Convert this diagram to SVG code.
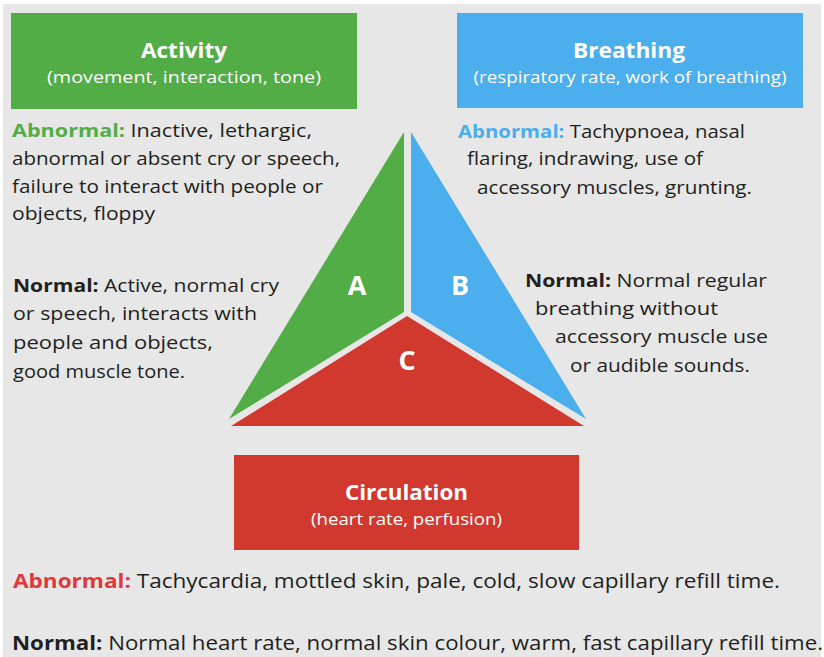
<svg xmlns="http://www.w3.org/2000/svg" width="824" height="657" viewBox="0 0 824 657">
<style>
  text { font-family: "Open Sans", "Noto Sans", "Liberation Sans", sans-serif; }
  .t { font-size: 18.5px; fill: #231f20; }
  .b { font-weight: bold; }
  .title { font-size: 22px; font-weight: bold; fill: #ffffff; text-anchor: middle; }
  .sub { font-size: 17px; fill: #ffffff; text-anchor: middle; }
  .big { font-size: 20px; fill: #231f20; }
  .letter { font-size: 27px; font-weight: bold; fill: #ffffff; text-anchor: middle; }
  .g { fill: #53ad47; }
  .bl { fill: #4baeed; }
  .r { fill: #d1392e; }
</style>
<rect x="0" y="0" width="824" height="657" fill="#ffffff"/>
<rect x="3" y="4" width="818" height="653" fill="#e7e7e7"/>

<g id="activity">
  <rect class="g" x="11" y="13" width="346" height="96"/>
  <text class="title" x="184" y="58" textLength="86" lengthAdjust="spacingAndGlyphs">Activity</text>
  <text class="sub" x="184" y="83" textLength="274" lengthAdjust="spacingAndGlyphs">(movement, interaction, tone)</text>
</g>

<g id="breathing">
  <rect class="bl" x="457" y="13" width="346" height="95"/>
  <text class="title" x="629" y="58" textLength="112" lengthAdjust="spacingAndGlyphs">Breathing</text>
  <text class="sub" x="630" y="83" textLength="313" lengthAdjust="spacingAndGlyphs">(respiratory rate, work of breathing)</text>
</g>

<g id="circulation">
  <rect class="r" x="234" y="455" width="345" height="95"/>
  <text class="title" x="406.5" y="500" textLength="123" lengthAdjust="spacingAndGlyphs">Circulation</text>
  <text class="sub" x="406.5" y="525" textLength="191" lengthAdjust="spacingAndGlyphs">(heart rate, perfusion)</text>
</g>

<g id="triangle">
  <polygon class="g" points="404,132 404,312 229,419"/>
  <polygon class="bl" points="411,132 411,312 586,419"/>
  <polygon class="r" points="407,316 584,426 231,426"/>
  <text class="letter" x="357" y="295">A</text>
  <text class="letter" x="460" y="295">B</text>
  <text class="letter" x="407" y="370">C</text>
</g>

<g id="activity-text">
  <text class="t" x="12" y="137" textLength="300" lengthAdjust="spacingAndGlyphs"><tspan class="b" fill="#53ad47">Abnormal:</tspan> Inactive, lethargic,</text>
  <text class="t" x="12" y="165" textLength="328" lengthAdjust="spacingAndGlyphs">abnormal or absent cry or speech,</text>
  <text class="t" x="12" y="193" textLength="311" lengthAdjust="spacingAndGlyphs">failure to interact with people or</text>
  <text class="t" x="12" y="220" textLength="143" lengthAdjust="spacingAndGlyphs">objects, floppy</text>
  <text class="t" x="13" y="292" textLength="266" lengthAdjust="spacingAndGlyphs"><tspan class="b">Normal:</tspan> Active, normal cry</text>
  <text class="t" x="13" y="320" textLength="244" lengthAdjust="spacingAndGlyphs">or speech, interacts with</text>
  <text class="t" x="13" y="349" textLength="200" lengthAdjust="spacingAndGlyphs">people and objects,</text>
  <text class="t" x="13" y="378" textLength="172" lengthAdjust="spacingAndGlyphs">good muscle tone.</text>
</g>

<g id="breathing-text">
  <text class="t" x="458" y="138" textLength="287" lengthAdjust="spacingAndGlyphs"><tspan class="b" fill="#4baeed">Abnormal:</tspan> Tachypnoea, nasal</text>
  <text class="t" x="467" y="165" textLength="236" lengthAdjust="spacingAndGlyphs">flaring, indrawing, use of</text>
  <text class="t" x="477" y="194" textLength="275" lengthAdjust="spacingAndGlyphs">accessory muscles, grunting.</text>
  <text class="t" x="525" y="287" textLength="242" lengthAdjust="spacingAndGlyphs"><tspan class="b">Normal:</tspan> Normal regular</text>
  <text class="t" x="535" y="315" textLength="183" lengthAdjust="spacingAndGlyphs">breathing without</text>
  <text class="t" x="555" y="343" textLength="213" lengthAdjust="spacingAndGlyphs">accessory muscle use</text>
  <text class="t" x="570" y="372" textLength="180" lengthAdjust="spacingAndGlyphs">or audible sounds.</text>
</g>

<g id="circulation-text">
  <text class="big" x="13" y="588" textLength="767" lengthAdjust="spacingAndGlyphs"><tspan class="b" fill="#e0393b">Abnormal:</tspan> Tachycardia, mottled skin, pale, cold, slow capillary refill time.</text>
  <text class="big" x="12" y="650" textLength="811" lengthAdjust="spacingAndGlyphs"><tspan class="b">Normal:</tspan> Normal heart rate, normal skin colour, warm, fast capillary refill time.</text>
</g>
</svg>
